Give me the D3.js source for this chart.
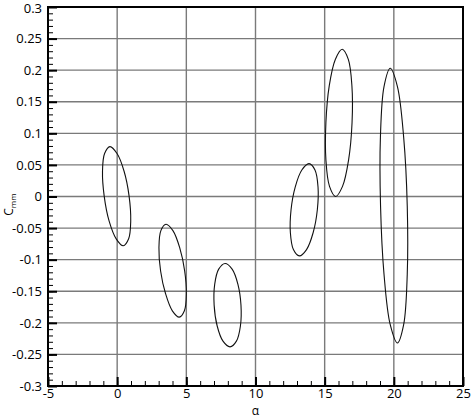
<!DOCTYPE html>
<html>
<head>
<meta charset="utf-8">
<script src="https://cdn.jsdelivr.net/npm/d3@7"></script>
<style>
body { margin: 0; background: #fff; }
text { font-family: "Open Sans", sans-serif; fill: #000; }
</style>
</head>
<body>
<script>
// tick values
var xTicks = [-5, 0, 5, 10, 15, 20, 25];
var yTicks = [-0.3, -0.25, -0.2, -0.15, -0.1, -0.05, 0, 0.05, 0.1, 0.15, 0.2, 0.25, 0.3];

var alpha1 = [-0.52, -0.01, 0.50, 0.86, 0.98, 0.83, 0.44, -0.07, -0.58, -0.94, -1.06, -0.91];
var cm1    = [0.079, 0.068, 0.040, 0.001, -0.039, -0.067, -0.078, -0.067, -0.039, 0.001, 0.040, 0.068];

var alpha2 = [3.53, 4.03, 4.52, 4.88, 5.00, 4.86, 4.49, 3.99, 3.50, 3.14, 3.02, 3.16];
var cm2    = [-0.044, -0.054, -0.081, -0.118, -0.154, -0.181, -0.191, -0.181, -0.154, -0.118, -0.081, -0.054];

var alpha3 = [7.80, 8.31, 8.73, 8.95, 8.91, 8.62, 8.16, 7.65, 7.23, 7.01, 7.05, 7.34];
var cm3    = [-0.106, -0.115, -0.139, -0.172, -0.205, -0.229, -0.238, -0.229, -0.205, -0.172, -0.139, -0.115];

var alpha4 = [13.87, 14.30, 14.52, 14.47, 14.17, 13.69, 13.17, 12.74, 12.52, 12.57, 12.87, 13.35];
var cm4    = [0.052, 0.042, 0.015, -0.021, -0.057, -0.084, -0.094, -0.084, -0.057, -0.021, 0.015, 0.042];

var alpha5 = [16.27, 16.71, 16.97, 16.98, 16.73, 16.29, 15.79, 15.35, 15.09, 15.09, 15.33, 15.77];
var cm5    = [0.233, 0.217, 0.175, 0.117, 0.058, 0.016, 0.000, 0.016, 0.058, 0.117, 0.175, 0.217];

var alpha6 = [19.74, 20.26, 20.71, 20.97, 20.97, 20.71, 20.26, 19.74, 19.29, 19.04, 19.03, 19.29];
var cm6    = [0.203, 0.174, 0.094, -0.015, -0.123, -0.203, -0.232, -0.203, -0.123, -0.015, 0.094, 0.174];

var loops = [[alpha1, cm1], [alpha2, cm2], [alpha3, cm3], [alpha4, cm4], [alpha5, cm5], [alpha6, cm6]];

var margin = {top: 7, right: 9, bottom: 33, left: 48},
    width = 472 - margin.left - margin.right,
    height = 419 - margin.top - margin.bottom;

var x = d3.scaleLinear().domain([-5, 25]).range([0, width]);
var y = d3.scaleLinear().domain([-0.3, 0.3]).range([height, 0]);

var svg = d3.select("body").append("svg")
    .attr("width", width + margin.left + margin.right)
    .attr("height", height + margin.top + margin.bottom)
  .append("g")
    .attr("transform", "translate(" + margin.left + "," + margin.top + ")");

// grid
svg.append("g").selectAll("line")
    .data(xTicks)
  .enter().append("line")
    .attr("x1", function(d) { return x(d); })
    .attr("x2", function(d) { return x(d); })
    .attr("y1", 0).attr("y2", height)
    .attr("stroke", "#7a7a7a").attr("stroke-width", 1.4);

svg.append("g").selectAll("line")
    .data(yTicks)
  .enter().append("line")
    .attr("y1", function(d) { return y(d); })
    .attr("y2", function(d) { return y(d); })
    .attr("x1", 0).attr("x2", width)
    .attr("stroke", "#7a7a7a").attr("stroke-width", 1.4);

// minor ticks
var minorX = d3.range(-5, 25.001, 1);
var minorY = d3.range(-0.3, 0.3001, 0.01);

svg.append("g")
    .attr("transform", "translate(0," + height + ")")
    .call(d3.axisBottom(x).tickValues(minorX).tickSize(-5).tickFormat(""))
    .call(function(g) { g.select(".domain").remove(); })
    .selectAll("line").attr("stroke", "#000").attr("stroke-width", 1);

svg.append("g")
    .call(d3.axisLeft(y).tickValues(minorY).tickSize(-5).tickFormat(""))
    .call(function(g) { g.select(".domain").remove(); })
    .selectAll("line").attr("stroke", "#000").attr("stroke-width", 1);

// major ticks + labels
var fmtY = function(d) {
  if (Math.abs(d) < 1e-9) return "0";
  return String(+d.toFixed(2));
};

var xAx = svg.append("g")
    .attr("transform", "translate(0," + height + ")")
    .call(d3.axisBottom(x).tickValues(xTicks).tickSize(-9).tickPadding(3).tickFormat(function(d) { return String(d); }));
xAx.select(".domain").remove();
xAx.selectAll("line").attr("stroke", "#000").attr("stroke-width", 2);
xAx.selectAll("text").attr("font-size", "13px").attr("font-family", "'Open Sans', sans-serif").attr("fill", "#000");

var yAx = svg.append("g")
    .call(d3.axisLeft(y).tickValues(yTicks).tickSize(-9).tickPadding(6).tickFormat(fmtY));
yAx.select(".domain").remove();
yAx.selectAll("line").attr("stroke", "#000").attr("stroke-width", 2);
yAx.selectAll("text").attr("font-size", "13px").attr("font-family", "'Open Sans', sans-serif").attr("fill", "#000");
// top label sits against the window edge, nudge it down a touch
yAx.selectAll(".tick").filter(function(d) { return d === 0.3; })
    .select("text").attr("dy", "0.45em");

// frame
svg.append("rect")
    .attr("width", width).attr("height", height)
    .attr("fill", "none").attr("stroke", "#000").attr("stroke-width", 2);

// loops
var line = d3.line()
    .x(function(d) { return x(d[0]); })
    .y(function(d) { return y(d[1]); })
    .curve(d3.curveCatmullRomClosed);

svg.append("g").selectAll("path")
    .data(loops)
  .enter().append("path")
    .attr("d", function(l) { return line(d3.zip(l[0], l[1])); })
    .attr("fill", "none")
    .attr("stroke", "#111")
    .attr("stroke-width", 1.1);

// axis titles
svg.append("text")
    .attr("x", width / 2)
    .attr("y", height + 29)
    .attr("text-anchor", "middle")
    .attr("font-size", "12px")
    .text("α");

var yt = svg.append("text")
    .attr("transform", "translate(" + (-35) + "," + (y(0) + 8) + ") rotate(-90)")
    .attr("text-anchor", "middle")
    .attr("font-size", "12px");
yt.append("tspan").text("C");
yt.append("tspan").attr("font-size", "8px").attr("dy", 3).text("mm");
</script>
</body>
</html>
